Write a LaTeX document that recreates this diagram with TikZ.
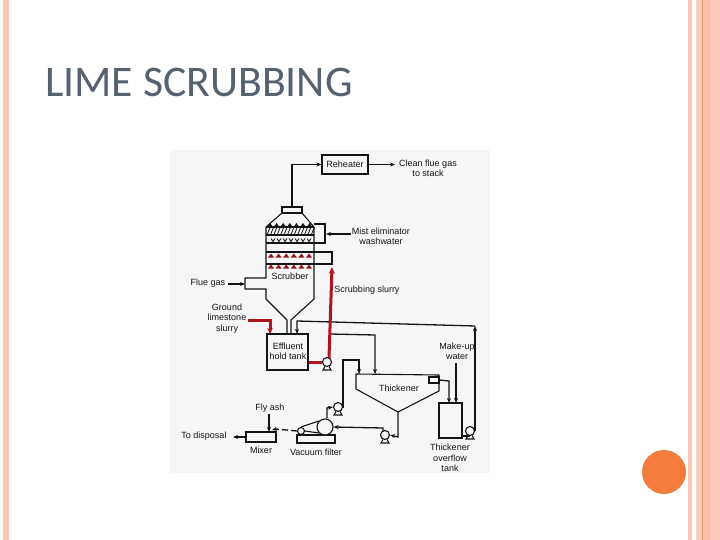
\documentclass[tikz,border=0pt]{standalone}
\usepackage{fontspec}
\setmainfont{Liberation Sans}
\newfontfamily\titlefont{Carlito}
\usetikzlibrary{arrows.meta}
\definecolor{peach}{HTML}{FBC8B5}
\definecolor{peachd}{HTML}{FBBFA8}
\definecolor{peachl}{HTML}{FDCBB8}
\definecolor{peachline}{HTML}{E09A70}
\definecolor{ball}{HTML}{F47C3C}
\definecolor{panel}{HTML}{F6F6F8}
\definecolor{ink}{HTML}{141416}
\definecolor{slurry}{HTML}{B0141E}
\definecolor{titlegray}{HTML}{566270}
\tikzset{
  x=1pt,y=-1pt,
  lbl/.style={font=\fontsize{9}{10.4}\selectfont,text=ink,align=center,inner sep=0pt},
  unit/.style={draw=ink,line width=1.1pt,fill=panel,minimum width=0pt,minimum height=0pt,inner sep=0pt},
  pumpc/.style={circle,draw=ink,line width=1.1pt,fill=panel,minimum size=9pt,inner sep=0pt},
  wall/.style={draw=ink,line width=1.1pt},
  pipe/.style={draw=ink,line width=1.3pt,-{Stealth[length=5pt,width=4pt]}},
  pipen/.style={draw=ink,line width=1.3pt},
  redpipe/.style={draw=slurry,line width=3pt},
}
\begin{document}
\begin{tikzpicture}
\useasboundingbox (0,0) rectangle (720,540);
% slide frame
\fill[white] (0,0) rectangle (720,540);
\fill[peach] (3,0) rectangle (9,540);
\fill[peach] (688,0) rectangle (692,540);
\fill[peachl] (696,0) rectangle (720,540);
\fill[peachd] (702,0) rectangle (710,540);
\draw[peachline,line width=0.8pt] (702,0) -- (702,540);
\node[circle,fill=ball,minimum size=44pt,inner sep=0pt] (ballnode) at (664,472) {};
\node[font=\titlefont\fontsize{43.7}{48}\selectfont,text=titlegray,anchor=west,inner sep=0pt] (title) at (45,82) {LIME SCRUBBING};
% scan panel
\fill[panel] (170,150) rectangle (490,473);
% scrubber body
\draw[wall,line join=round] (282,213) -- (266,227) -- (266,278) -- (245,278) -- (245,289) -- (266,289) -- (266,299) -- (287,320) -- (287,334);
\draw[wall,line join=round] (302,213) -- (314,227) -- (314,299) -- (291,320) -- (291,334);
\node[unit,minimum width=20pt,minimum height=6pt] (cap) at (292,210) {};
% mist eliminator internals
\draw[wall] (266,227) -- (314,227);
\draw[wall] (266,235) -- (314,235);
\draw[wall] (266,243) -- (314,243);
\draw[wall] (266,252) -- (314,252);
\draw[wall] (266,264) -- (314,264);
\foreach \i in {0,...,13} \draw[ink,line width=0.8pt] (267+\i*3.4,235) -- (270+\i*3.4,227.5);
\foreach \i in {0,...,6} \fill[ink] (270+\i*6.6,223) -- (272.5+\i*6.6,226.5) -- (267.5+\i*6.6,226.5) -- cycle;
\foreach \i in {0,...,6} \draw[ink,line width=0.9pt] (271+\i*6,238.5) -- (273+\i*6,241.5) -- (275+\i*6,238.5);
\foreach \i in {0,...,5} {
  \fill[slurry!85!black] (271+\i*7.6,253.5) -- (274+\i*7.6,257.5) -- (268+\i*7.6,257.5) -- cycle;
  \fill[slurry!85!black] (271+\i*7.6,264.5) -- (274+\i*7.6,268.5) -- (268+\i*7.6,268.5) -- cycle;
}
% tanks and equipment
\node[unit,minimum width=46pt,minimum height=19pt] (reheater) at (345,164.5) {};
\node[lbl] at (reheater.center) {Reheater};
\node[unit,minimum width=41pt,minimum height=36pt] (hold) at (287.5,352) {};
\node[lbl] (holdtxt) at (288,351) {Effluent\\hold tank};
\draw[wall,line join=round] (356,374) -- (439,375) -- (439,391) -- (398,412) -- (356,389) -- cycle;
\coordinate (thapex) at (398,412);
\node[unit,minimum width=10pt,minimum height=6pt] (weir) at (434,380) {};
\node[unit,minimum width=23pt,minimum height=35pt] (overflow) at (450.5,420.5) {};
\node[unit,minimum width=30pt,minimum height=10pt] (mixer) at (261,437) {};
\node[unit,minimum width=38pt,minimum height=8pt] (filterbase) at (316,439) {};
\node[circle,draw=ink,line width=1.1pt,fill=panel,minimum size=16pt,inner sep=0pt] (drum) at (325,427) {};
\node[circle,draw=ink,line width=1.1pt,fill=panel,minimum size=7pt,inner sep=0pt] (roller) at (301,431) {};
\draw[wall] (roller.north) -- (drum.north west);
\draw[wall] (roller.east) -- (drum.south west);
% pumps
\node[pumpc] (p1) at (327,362) {};
\node[pumpc] (p2) at (338,407) {};
\node[pumpc] (p3) at (385,435) {};
\node[pumpc] (p4) at (470,431) {};
\foreach \p in {p1,p2,p3,p4} \draw[wall] (\p.center) ++(-2,4.5) -- ++(-2,3.5) -- ++(8,0) -- ++(-2,-3.5);
% labels
\node[lbl] (clean) at (428,168) {Clean flue gas\\to stack};
\node[lbl] (mist) at (381,236) {Mist eliminator\\washwater};
\node[lbl] (fluegas) at (208,283) {Flue gas};
\node[lbl] (scrub) at (290,276) {Scrubber};
\node[lbl] (scrubslurry) at (367,290) {Scrubbing slurry};
\node[lbl] (ground) at (227,318.5) {Ground\\limestone\\slurry};
\node[lbl] (makeup) at (457,351) {Make-up\\water};
\node[lbl] (thick) at (399,388) {Thickener};
\node[lbl] (flyash) at (270,408) {Fly ash};
\node[lbl] (disposal) at (204,436) {To disposal};
\node[lbl] (mixtxt) at (261,450) {Mixer};
\node[lbl] (vactxt) at (316,452) {Vacuum filter};
\node[lbl] (overtxt) at (450,458) {Thickener\\overflow\\tank};
\coordinate (makeupend) at (456,363);
\coordinate (flyashend) at (269,414);
% black pipes
\draw[pipe] (cap.north) |- (reheater.west);
\draw[pipe] (reheater.east) -- (395,164.5);
\draw[pipen] (314,224) -- (325,224) -- (325,243) -- (314,243);
\draw[pipe] (mist.west |- 0,234) ++(-1,0) -- (326,234);
\draw[pipen] (314,252) -- (332,252) -- (332,264) -- (314,264);
\draw[pipe] (fluegas.east) ++(3,1) -- (245,284);
\draw[pipe] (475,431) -- (475,326);
\draw[pipe] (475,326) -- (297,321) -- (297,334);
\draw[pipe] (330,334) -- (375,335) -- (375,374);
\draw[pipe] (p2.east) -- (343,407) -- (343,360) -- (359,360) -- (359,374);
\draw[pipe] (weir.east) -- (449,381) -- (449,403);
\draw[pipe] (makeupend) -- (456,403);
\draw[pipe] (thapex) -- (398,437) -- (p3.east);
\draw[pipe] (383,431) -- (383,428) -- (drum.east);
\draw[pipe] (drum.north) ++(2,0) -- (327,408) -- (p2.west);
\draw[pipen,dashed,dash pattern=on 6pt off 3pt] (roller.west) -- (276,429);
\draw[pipe] (276,429) -- (272,430);
\draw[pipe] (flyashend) -- (269,432);
\draw[pipe] (mixer.west) -- (233,437);
\draw[pipen] (overflow.east |- p4.south) -- (p4.south);
% red slurry pipes
\draw[redpipe] (hold.east |- p1.center) -- (p1.west);
\draw[redpipe,-{Stealth[length=7pt,width=6pt]}] (329,358) -- (332,267);
\draw[redpipe,-{Stealth[length=6pt,width=5.5pt]}] (ground.east |- 0,320) ++(2,0) -- (270,320) -- (270,334);
\end{tikzpicture}
\end{document}
